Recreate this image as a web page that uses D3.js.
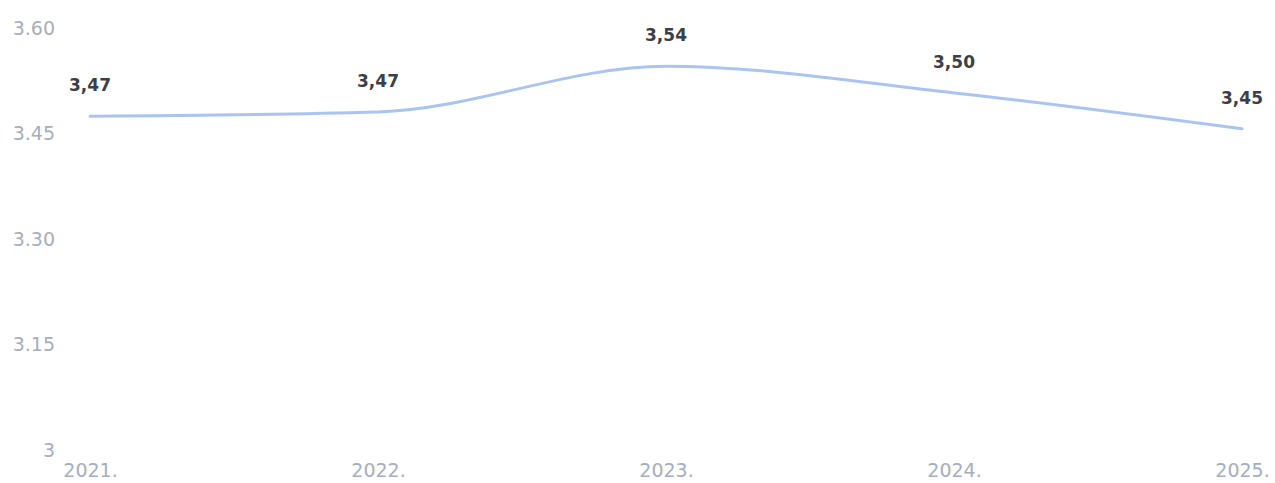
<!DOCTYPE html>
<html>
<head>
<meta charset="utf-8">
<script src="https://cdn.jsdelivr.net/npm/d3@7"></script>
<style>
  html, body { margin: 0; padding: 0; background: #ffffff; }
  svg { display: block; }
</style>
</head>
<body>
<svg id="chart" width="1275" height="483"></svg>
<script>
const years = ["2021.", "2022.", "2023.", "2024.", "2025."];
const values = [3.469, 3.475, 3.540, 3.502, 3.451];
const valueLabels = ["3,47", "3,47", "3,54", "3,50", "3,45"];
const yTicks = [3, 3.15, 3.30, 3.45, 3.60];
const yTickLabels = ["3", "3.15", "3.30", "3.45", "3.60"];

const FONT = "'DejaVu Sans', Verdana, sans-serif";
const svg = d3.select("#chart");
const x = d3.scalePoint().domain(years).range([90, 1242]);
const y = d3.scaleLinear().domain([3, 3.6]).range([446, 24]);

// Y axis
const yAxis = d3.axisLeft(y).tickValues(yTicks)
  .tickFormat((d, i) => yTickLabels[i]).tickSize(0).tickPadding(0);
const gy = svg.append("g").attr("transform", "translate(55,0)").call(yAxis)
  .attr("font-family", FONT).attr("font-size", 19);
gy.select(".domain").remove();
gy.selectAll("text").attr("fill", "#a6aebd").attr("dy", "0.55em");

// X axis
const xAxis = d3.axisBottom(x).tickSize(0).tickPadding(0);
const gx = svg.append("g").attr("transform", "translate(0,477)").call(xAxis)
  .attr("font-family", FONT).attr("font-size", 19);
gx.select(".domain").remove();
gx.selectAll("text").attr("fill", "#a6aebd").attr("y", 0).attr("dy", 0);

// Line
const line = d3.line()
  .x((d, i) => x(years[i]))
  .y(d => y(d))
  .curve(d3.curveMonotoneX);
svg.append("path").datum(values)
  .attr("d", line)
  .attr("fill", "none")
  .attr("stroke", "#aac4f2")
  .attr("stroke-width", 3)
  .attr("stroke-linecap", "round");

// Value labels
svg.append("g").selectAll("text").data(values).join("text")
  .attr("x", (d, i) => x(years[i]))
  .attr("y", d => y(d) - 25)
  .attr("text-anchor", "middle")
  .attr("font-family", FONT)
  .attr("font-size", 17)
  .attr("font-weight", "bold")
  .attr("fill", "#3a3f4a")
  .text((d, i) => valueLabels[i]);
</script>
</body>
</html>
